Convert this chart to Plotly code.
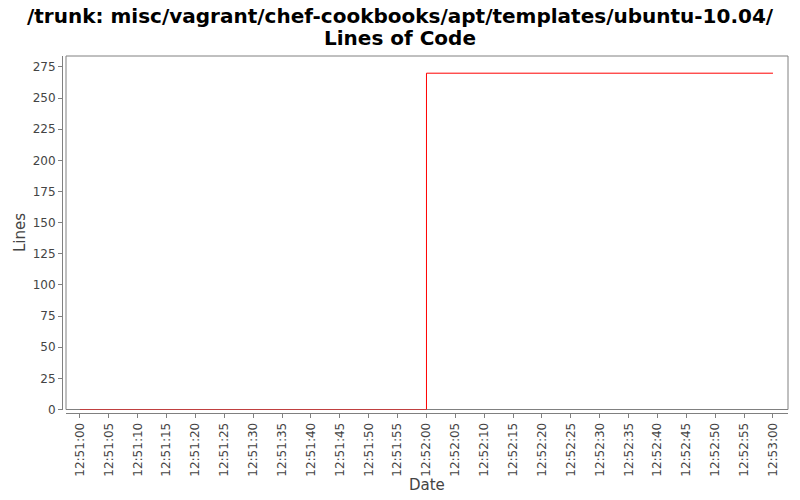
import plotly.graph_objects as go

# commit times and line counts
dates = ["2011-01-01 12:51:00", "2011-01-01 12:52:00", "2011-01-01 12:53:00"]
lines = [0, 270, 270]

x_range = ["2011-01-01 12:50:57.58", "2011-01-01 12:53:02.6"]
y_range = [0, 283.8]

title_lines = ["/trunk: misc/vagrant/chef-cookbooks/apt/templates/ubuntu-10.04/", "Lines of Code"]

# the page body adds an 8px margin, so the figure is drawn 8px smaller
W, H = 792, 492
ml, mr, mt, mb = 54, 12, 48, 87
pw = W - ml - mr
ph = H - mt - mb


def px_x(px):
    return (px - ml) / pw


def px_y(py):
    return 1 - (py - mt) / ph


fig = go.Figure()
fig.add_trace(
    go.Scatter(
        x=dates,
        y=lines,
        mode="lines",
        line=dict(color="#ff0000", width=1, shape="hv"),
        showlegend=False,
    )
)

axis_font = dict(family="DejaVu Sans", size=12, color="#444444")
label_font = dict(family="DejaVu Sans", size=15, color="#444444")

for text, py in zip(title_lines, [8, 30]):
    fig.add_annotation(
        text="<b>" + text + "</b>",
        xref="paper", yref="paper",
        x=px_x(392), y=px_y(py),
        xanchor="center", yanchor="middle",
        showarrow=False,
        font=dict(family="DejaVu Sans", size=20, color="black"),
    )

fig.add_annotation(
    text="Lines", textangle=-90,
    xref="paper", yref="paper",
    x=px_x(12), y=px_y(225),
    xanchor="center", yanchor="middle",
    showarrow=False, font=label_font,
)
fig.add_annotation(
    text="Date",
    xref="paper", yref="paper",
    x=px_x(419), y=px_y(477),
    xanchor="center", yanchor="middle",
    showarrow=False, font=label_font,
)

fig.update_layout(
    width=W,
    height=H,
    paper_bgcolor="white",
    plot_bgcolor="white",
    margin=dict(l=ml, r=mr, t=mt, b=mb, autoexpand=False),
    xaxis=dict(
        type="date",
        range=x_range,
        domain=[4 / pw, 1],
        anchor="free",
        position=0,
        automargin=False,
        tickformat="%H:%M:%S",
        dtick=5000,
        tick0="2011-01-01 12:51:00",
        tickangle=-90,
        ticks="outside",
        ticklen=4,
        tickcolor="#808080",
        showline=True,
        linecolor="#808080",
        linewidth=1,
        showgrid=False,
        zeroline=False,
        tickfont=axis_font,
    ),
    yaxis=dict(
        range=y_range,
        domain=[3.5 / ph, 1],
        anchor="free",
        position=0,
        automargin=False,
        dtick=25,
        ticks="outside",
        ticklen=4,
        tickcolor="#808080",
        showline=True,
        linecolor="#808080",
        linewidth=1,
        showgrid=False,
        zeroline=False,
        tickfont=axis_font,
    ),
    shapes=[
        dict(
            type="rect",
            xref="x domain", yref="y domain",
            x0=0, x1=1, y0=0, y1=1,
            line=dict(color="#808080", width=1),
            layer="below",
        )
    ],
)

fig.write_html("out.html")
